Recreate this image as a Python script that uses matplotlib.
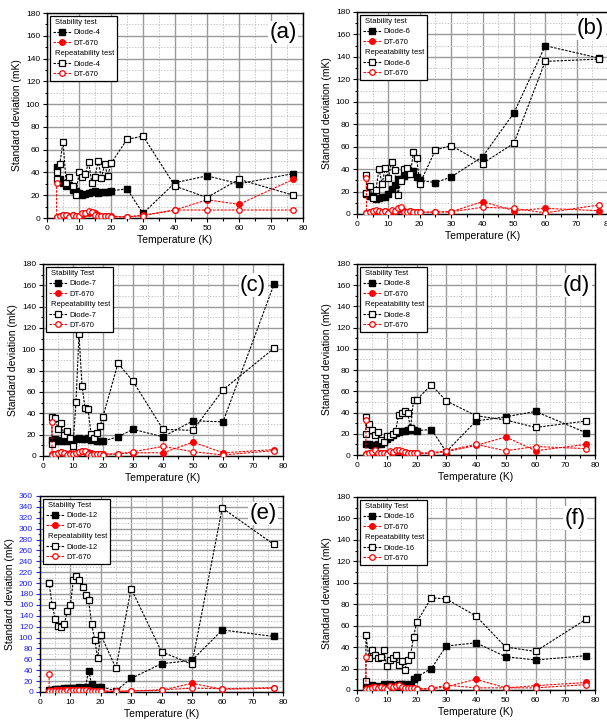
import matplotlib
matplotlib.use("Agg")
import matplotlib.pyplot as plt
from matplotlib.lines import Line2D
from matplotlib.ticker import MultipleLocator

plt.rcParams['font.family'] = ['Liberation Sans', 'DejaVu Sans']

# temperatures (K); repeatability runs have two readings at 3 K
T_STAB = [3, 4, 5, 6, 7, 8, 9, 10, 11, 12, 13, 14, 15, 16, 17, 18, 19, 20, 25, 30, 40, 50, 60, 77]
T_REP = [3] + T_STAB

# (a) Diode-4
A_STAB_DIODE = [45, 34.5, 31, 28, 29, 25, 24, 22, 20, 21, 22, 22.5, 24, 22, 22.5, 23, 23, 24, 25.5, 4, 31, 37, 30, 39]
A_STAB_DT = [1, 2, 3, 3, 2, 3, 2, 1.5, 3, 4, 4, 5, 4, 3, 2, 2, 2, 1.5, 1, 2.5, 7, 16, 12, 34]
A_REP_DIODE = [34, 40, 47, 67, 31, 36, 28, 20, 40, 36, 39, 49, 31, 36, 50, 35, 47, 37, 48, 69, 72, 28, 18, 34, 20]
A_REP_DT = [31, 1, 2, 3, 3, 1, 3, 2, 1.5, 4, 4, 6, 5, 3, 2, 2, 2, 2, 1, 1, 2, 7, 7, 7, 7]

# (b) Diode-6
B_STAB_DIODE = [18, 16, 15, 13, 14, 15, 15, 18, 22, 26, 31, 31, 34, 36, 38, 38, 33, 30, 28, 33, 51, 90, 150, 139]
B_STAB_DT = [1, 2, 3, 2, 3, 2, 3, 2, 1, 3, 4, 5, 3, 2, 3, 2, 2, 1.5, 2, 2, 11, 3, 5, 3]
B_REP_DIODE = [19, 35, 25, 14, 21, 40, 27, 41, 32, 46, 39, 17, 29, 40, 41, 36, 55, 50, 27, 57, 61, 45, 63, 136, 138]
B_REP_DT = [32, 1, 2, 3, 4, 3, 2, 3, 1, 4, 3, 5, 6, 2, 2, 3, 2, 2, 1.5, 1.5, 2, 6, 5, 1, 8]

# (c) Diode-7
C_STAB_DIODE = [15, 16, 14, 15, 14, 15, 14, 14, 16, 17, 16, 16, 17, 15, 16, 14, 14, 14, 18, 25, 18, 33, 32, 161]
C_STAB_DT = [2, 2, 3, 4, 3, 2, 3, 2, 3, 4, 5, 4, 4, 3, 2, 2, 2, 2, 2, 3, 3, 13, 3, 6]
C_REP_DIODE = [11, 37, 36, 25, 31, 20, 23, 17, 9, 51, 114, 66, 45, 44, 21, 17, 22, 28, 37, 87, 70, 25, 24, 62, 101]
C_REP_DT = [32, 1, 2, 3, 4, 3, 1, 2, 2, 3, 4, 5, 5, 2, 1, 2, 2, 2, 1, 2, 4, 9, 4, 1, 5]

# (d) Diode-8
D_STAB_DIODE = [10, 10, 9, 9, 10, 10, 12, 15, 17, 19, 21, 22, 23, 23, 24, 25, 24, 23, 24, 3, 32, 36, 41, 21]
D_STAB_DT = [1, 2, 2, 3, 2, 2, 2, 2, 3, 3, 4, 4, 3, 3, 2, 2, 2, 1.5, 1.5, 3, 9, 17, 4, 10]
D_REP_DIODE = [20, 36, 29, 24, 19, 22, 14, 12, 18, 18, 20, 23, 38, 40, 41, 40, 25, 52, 52, 66, 51, 37, 33, 26, 32]
D_REP_DT = [33, 1, 2, 3, 5, 2, 2, 2, 1, 4, 3, 5, 5, 4, 3, 2, 2, 2, 2, 2, 4, 10, 4, 8, 6]

# (e) Diode-12
E_STAB_DIODE = [3, 4, 5, 5, 6, 7, 8, 8, 8, 8, 9, 8, 10, 39, 14, 8, 9, 10, 2, 25, 52, 58, 114, 102]
E_STAB_DT = [2, 2, 3, 3, 3, 3, 3, 3, 3, 3, 4, 3, 3, 3, 2, 2, 2, 2, 1, 2, 3, 16, 5, 7]
E_REP_DIODE = [200, 201, 159, 135, 121, 119, 125, 149, 160, 206, 213, 205, 192, 178, 169, 124, 96, 62, 105, 44, 190, 74, 51, 338, 271]
E_REP_DT = [33, 1, 1, 2, 2, 2, 2, 3, 2, 3, 3, 4, 4, 3, 2, 2, 2, 2, 2, 1, 2, 4, 7, 6, 8]

# (f) Diode-16
F_STAB_DIODE = [2, 3, 5, 4, 3, 4, 6, 5, 6, 5, 5, 6, 6, 6, 5, 6, 10, 12, 20, 41, 44, 31, 28, 32]
F_STAB_DT = [1, 2, 3, 3, 2, 3, 2, 2, 4, 3, 4, 4, 3, 2, 2, 2, 1.5, 1, 1, 3, 10, 2, 4, 7]
F_REP_DIODE = [8, 51, 30, 37, 33, 30, 31, 37, 22, 28, 30, 33, 23, 27, 19, 28, 33, 49, 63, 86, 85, 69, 40, 36, 66]
F_REP_DT = [31, 1, 1, 2, 3, 2, 3, 2, 1, 4, 3, 4, 5, 3, 2, 2, 2, 2, 1, 1.5, 4.5, 2, 2, 2, 5]

PANELS = [
    ("(a)", "Diode-4", "Stability test", A_STAB_DIODE, A_STAB_DT, A_REP_DIODE, A_REP_DT),
    ("(b)", "Diode-6", "Stability test", B_STAB_DIODE, B_STAB_DT, B_REP_DIODE, B_REP_DT),
    ("(c)", "Diode-7", "Stability Test", C_STAB_DIODE, C_STAB_DT, C_REP_DIODE, C_REP_DT),
    ("(d)", "Diode-8", "Stability Test", D_STAB_DIODE, D_STAB_DT, D_REP_DIODE, D_REP_DT),
    ("(e)", "Diode-12", "Stability Test", E_STAB_DIODE, E_STAB_DT, E_REP_DIODE, E_REP_DT),
    ("(f)", "Diode-16", "Stability Test", F_STAB_DIODE, F_STAB_DT, F_REP_DIODE, F_REP_DT),
]

W, H = 607, 724
# axes boxes in pixels: left, right, top, bottom
BOXES = [(47, 303, 13, 218), (357, 608, 12, 214),
         (43, 283, 264, 456), (357, 595, 264, 455),
         (40, 283, 496, 692), (357, 595, 497, 690)]
LETTER_POS = [(0.975, 0.905), (0.985, 0.92), (0.93, 0.89),
              (0.98, 0.89), (0.975, 0.91), (0.96, 0.89)]

DASH = (0, (2.2, 1.2))
MS = 4.0

fig = plt.figure(figsize=(W / 100, H / 100), dpi=100)

for i, (letter, diode, stab_title, sd, sdt, rd, rdt) in enumerate(PANELS):
    l, r, t, b = BOXES[i]
    ax = fig.add_axes([l / W, 1 - b / H, (r - l) / W, (b - t) / H])
    ax.set_xlim(0, 80)
    ymax = 360 if letter == "(e)" else 180
    ax.set_ylim(0, ymax)
    ax.xaxis.set_major_locator(MultipleLocator(10))
    ax.xaxis.set_minor_locator(MultipleLocator(5))
    ax.yaxis.set_major_locator(MultipleLocator(20))
    ax.yaxis.set_minor_locator(MultipleLocator(10))
    ax.grid(which='major', color='#9a9a9a', linewidth=1.0, zorder=0)
    ax.grid(which='minor', color='#c8c8c8', linewidth=0.7, linestyle=(0, (1.5, 1.5)), zorder=0)
    ax.set_axisbelow(True)
    ax.tick_params(which='both', direction='out', labelsize=6, width=0.8, pad=2)
    ax.tick_params(which='major', length=3)
    ax.tick_params(which='minor', length=1.8)
    for s in ax.spines.values():
        s.set_linewidth(1.0)

    h1, = ax.plot(T_STAB, sd, linestyle=DASH, color='black', lw=0.8, marker='s',
                  ms=MS, mfc='black', mec='black', zorder=4)
    h2, = ax.plot(T_STAB, sdt, linestyle=DASH, color='red', lw=0.8, marker='o',
                  ms=MS, mfc='red', mec='red', zorder=4)
    h3, = ax.plot(T_REP, rd, linestyle=DASH, color='black', lw=0.8, marker='s',
                  ms=MS, mfc='white', mec='black', mew=0.9, zorder=5)
    h4, = ax.plot(T_REP, rdt, linestyle=DASH, color='red', lw=0.8, marker='o',
                  ms=MS, mfc='white', mec='red', mew=0.9, zorder=5)

    blank = Line2D([], [], linestyle='none')
    leg = ax.legend([blank, h1, h2, blank, h3, h4],
                    [stab_title, diode, "DT-670", "Repeatability test", diode, "DT-670"],
                    loc='upper left', fontsize=5.5, frameon=True, fancybox=False,
                    framealpha=1, edgecolor='black', handlelength=2.4,
                    handletextpad=0.3, labelspacing=0.4, borderpad=0.35,
                    borderaxespad=0.4)
    leg.get_frame().set_linewidth(0.9)
    leg.set_zorder(10)
    # headers sit flush left with no handle
    rows = leg._legend_handle_box.get_children()[0].get_children()
    for k in (0, 3):
        rows[k].get_children()[0].width = 0

    ax.text(LETTER_POS[i][0], LETTER_POS[i][1], letter, transform=ax.transAxes,
            ha='right', va='center', fontsize=16, zorder=9,
            bbox=dict(facecolor='white', edgecolor='none', pad=1))

    ax.set_xlabel("Temperature (K)", fontsize=7.5, labelpad=2)
    ax.set_ylabel("Standard deviation (mK)", fontsize=7.5, labelpad=3)

    if letter == "(e)":
        ax.tick_params(axis='y', which='both', colors='#2020ff', labelcolor='#2020ff')

fig.savefig("out.png", dpi=100)
